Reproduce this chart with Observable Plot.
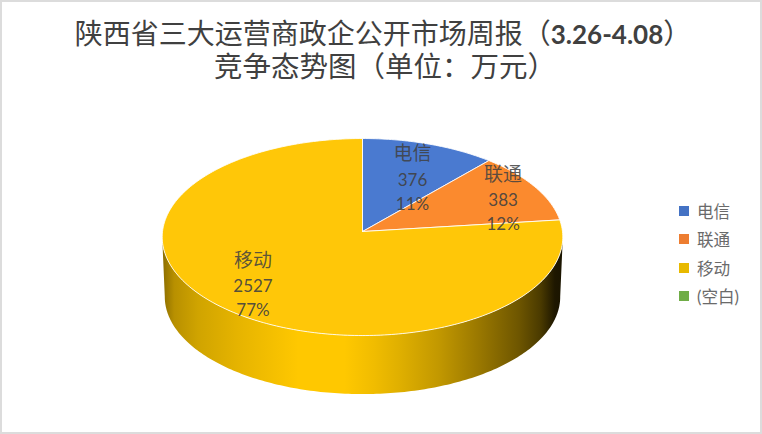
<!DOCTYPE html>
<html><head><meta charset="utf-8">
<script src="https://cdn.jsdelivr.net/npm/d3@7"></script>
<script src="https://cdn.jsdelivr.net/npm/@observablehq/plot@0.6"></script>
<style>
html,body{margin:0;padding:0;background:#fff;}
#page{position:relative;width:762px;height:434px;overflow:hidden;font-family:Lato,"Noto Sans CJK SC",sans-serif;}
#title{position:absolute;left:0;top:0;width:762px;height:90px;}
#title div{position:absolute;left:0;width:762px;text-align:center;line-height:34px;color:#404040;white-space:nowrap;}
#title b{font-weight:700;font-size:26px;}
#chart{position:absolute;left:0;top:90px;}
#legend{position:absolute;left:679px;top:197px;font-size:16.6px;color:#6a6a6a;}
#legend .row{display:flex;align-items:center;height:28.3px;}
#legend i{display:block;width:10px;height:10px;margin-right:8px;}
#frame{position:absolute;left:0;top:0;right:0;bottom:0;border:2px solid #dcdcdc;pointer-events:none;}
</style></head><body>
<div id="page">
<div id="title"><div style="top:16px;font-size:28px;left:2px">陕西省三大运营商政企公开市场周报（<b>3.26-4.08</b>）</div><div style="top:49px;font-size:28.5px;left:4px">竞争态势图（单位：万元）</div></div>
<div id="chart"></div>
<div id="legend"></div>
<div id="frame"></div>
</div>
<script>
const categories = ["电信","联通","移动"];
const values = [376,383,2527];
const percents = ["11%","12%","77%"];
const legendItems = ["电信","联通","移动","(空白)"];
const sliceColors = ["#4a7ad0","#fb8a2e","#ffc708"];
const legendColors = ["#4472c4","#ed7d31","#e8b900","#70ad47"];

// layout of the tilted disc
const tilt = 0.0559, depthV = 0.61, bottomScale = 0.987;
const labelFactor = [[0.71,0.582],[0.795,0.72],[0.825,0.725]];
const toRad = d => d*Math.PI/180;
function project(deg, shrink=1, drop=0){
  const u=Math.sin(toRad(deg)), v=Math.cos(toRad(deg)), w=1+tilt*v;
  return {x:shrink*u/w, y:shrink*v/w-drop};
}
const total = d3.sum(values);
let acc=0;
const slices = values.map((value,i)=>{
  const start=acc/total*360; acc+=value; const end=acc/total*360;
  const mid=(start+end)/2;
  return {name:categories[i],value,color:sliceColors[i],start,end,
    lx:Math.sin(toRad(mid))*labelFactor[i][0], ly:Math.cos(toRad(mid))*labelFactor[i][1],
    figures:`${value}\n${percents[i]}`};
});
const wedge = s=>{
  const pts=[{x:0,y:0}], n=Math.ceil(s.end-s.start);
  for(let k=0;k<=n;k++) pts.push(project(s.start+(s.end-s.start)*k/n));
  pts.push({x:0,y:0});
  return pts;
};
const sideStart=93.2, sideEnd=266.8, sideSteps=180;
const side=[];
for(let k=0;k<=sideSteps;k++) side.push(project(sideStart+(sideEnd-sideStart)*k/sideSteps));
for(let k=sideSteps;k>=0;k--) side.push(project(sideStart+(sideEnd-sideStart)*k/sideSteps,bottomScale,depthV));

const gradientStops=[[0,"#8a6c00"],[0.03,"#b89000"],[0.09,"#d0a400"],[0.19,"#e6b400"],[0.34,"#ffc800"],[0.455,"#ffc800"],[0.53,"#f0bc00"],[0.59,"#e0b000"],[0.69,"#c29800"],[0.79,"#9a7800"],[0.89,"#6e5600"],[0.945,"#4a3a00"],[0.98,"#1e1700"],[1,"#1a1400"]];
const defs=()=>{
  const d=d3.create("svg:defs");
  const g=d.append("linearGradient").attr("id","sideGrad").attr("x1",0).attr("x2",1).attr("y1",0).attr("y2",0);
  gradientStops.forEach(([o,c])=>g.append("stop").attr("offset",o).attr("stop-color",c));
  return d.node();
};
const plot=Plot.plot({
  width:762,height:344,margin:0,
  x:{domain:[-1.81,2],range:[0,762],axis:null},
  y:{domain:[-2.067,1.436],range:[344,0],axis:null},
  style:{background:"transparent",fontFamily:'Lato,"Noto Sans CJK SC",sans-serif'},
  marks:[
    defs,
    Plot.line(side,{x:"x",y:"y",fill:"url(#sideGrad)",stroke:"none"}),
    ...slices.map(s=>Plot.line(wedge(s),{x:"x",y:"y",fill:s.color,stroke:"#fff",strokeWidth:1,strokeOpacity:0.85})),
    Plot.text(slices,{x:"lx",y:"ly",text:"name",dy:-24,fontSize:19,fill:"#404040",fillOpacity:0.85}),
    Plot.text(slices,{x:"lx",y:"ly",text:"figures",dy:12,fontSize:17,lineHeight:1.41,fill:"#404040",fillOpacity:0.9})
  ]
});
document.getElementById("chart").appendChild(plot);
const lg=document.getElementById("legend");
legendItems.forEach((t,i)=>{
  const r=document.createElement("div");r.className="row";
  const sw=document.createElement("i");sw.style.background=legendColors[i];
  const sp=document.createElement("span");sp.textContent=t;
  r.append(sw,sp);lg.append(r);
});
</script>
</body></html>
